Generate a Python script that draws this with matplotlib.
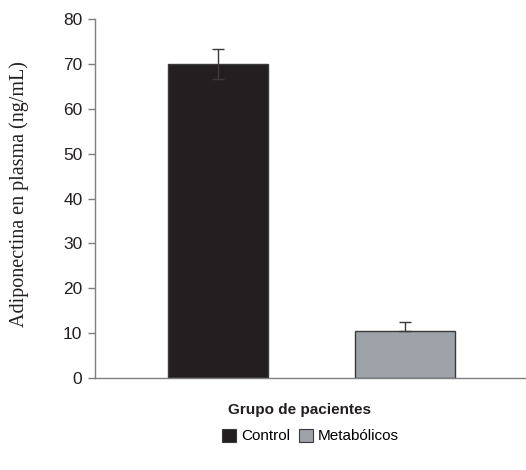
import numpy as np
import matplotlib.pyplot as plt
from matplotlib.patches import Patch

grupos = ['Control', 'Metabólicos']
medias = [70.0, 10.4]
errores = [3.4, 2.1]
colores = ['#231f20', '#9ea3aa']

fig = plt.figure(figsize=(5.26, 4.70), dpi=100)
ax = fig.add_axes([0.1806, 0.1957, 0.8194, 0.7639])

x = np.arange(len(grupos))
ax.bar(x, medias, width=0.535, color=colores, edgecolor='#3a3a3a', linewidth=1.0, zorder=2)

# barra de error: la de Control en ambos sentidos, la de Metabólicos solo hacia arriba
ax.errorbar(x[0], medias[0], yerr=errores[0], fmt='none', ecolor='#3a3a3a',
            elinewidth=1.0, capsize=4, capthick=1.0, zorder=3)
ax.errorbar(x[1], medias[1], yerr=[[0], [errores[1]]], fmt='none', ecolor='#3a3a3a',
            elinewidth=1.0, capsize=4, capthick=1.0, zorder=3)

ax.set_xlim(-0.658, 1.647)
ax.set_ylim(0, 80)
ax.set_yticks(range(0, 81, 10))
ax.set_xticks([])

for s in ['top', 'right']:
    ax.spines[s].set_visible(False)
for s in ['left', 'bottom']:
    ax.spines[s].set_color('#7f7f7f')
    ax.spines[s].set_linewidth(1.0)

ax.tick_params(axis='y', direction='out', length=5, width=1.0, color='#7f7f7f',
               labelsize=12.5, pad=4)
for lab in ax.get_yticklabels():
    lab.set_family('Liberation Sans')
    lab.set_color('#231f20')

fig.text(0.036, 0.587, 'Adiponectina en plasma (ng/mL)', family='Liberation Serif',
         fontsize=14.5, rotation=90, ha='center', va='center', color='#231f20')

fig.text(0.57, 0.127, 'Grupo de pacientes', family='Liberation Sans', fontweight='bold',
         fontsize=11, ha='center', va='center', color='#231f20')

handles = [Patch(facecolor=c, edgecolor='#3a3a3a', linewidth=0.8) for c in colores]
fig.legend(handles, grupos, loc='center', bbox_to_anchor=(0.59, 0.072), ncol=2,
           frameon=False, handlelength=0.9, handleheight=0.9, handletextpad=0.3,
           columnspacing=0.6, prop={'family': 'Liberation Sans', 'size': 11})

fig.savefig('out.png', dpi=100)
